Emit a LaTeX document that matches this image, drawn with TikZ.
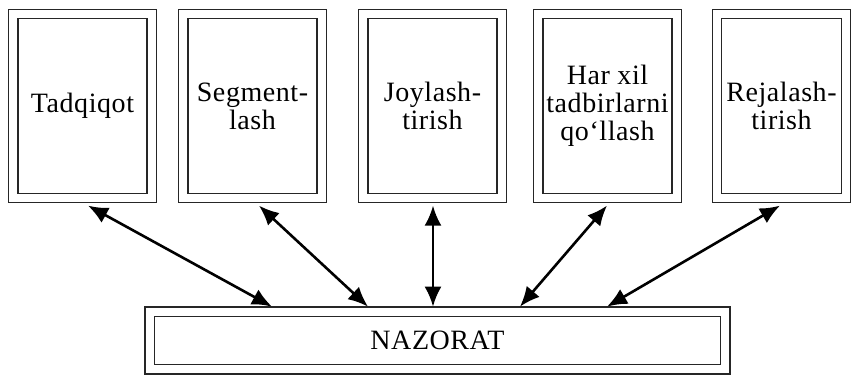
\documentclass[tikz,border=0pt]{standalone}
\usepackage{fontspec}
\setmainfont{Liberation Serif}[LetterSpace=2]
\usepackage{tikz}
\usetikzlibrary{arrows.meta, positioning, calc}
\tikzset{
  dbox/.style={draw=black!85, line width=0.6pt, double, double distance=4.1pt,
    align=center, inner sep=0pt, minimum width=69.25pt, minimum height=92pt,
    font=\fontsize{14}{14}\selectfont},
  link/.style={{Latex[length=10pt,width=8.5pt]}-{Latex[length=10pt,width=8.5pt]}, line width=1.3pt}
}

\begin{document}
\begin{tikzpicture}[x=0.5pt,y=-0.5pt]
\useasboundingbox (0,0) rectangle (853,375);
% Stages
\node[dbox] (tadqiqot) at (82.5,106) {Tadqiqot};
\node[dbox] (segment) at (252.5,106) {Segment-\\lash};
\node[dbox] (joylash) at (432.5,106) {Joylash-\\tirish};
\node[dbox] (tadbir) at (607.5,106) {Har xil\\tadbirlarni\\qo‘llash};
\node[dbox,minimum width=64.5pt] (reja) at (781.5,106) {Rejalash-\\tirish};
% Control
\node[dbox,minimum width=287.75pt,minimum height=28.75pt] (nazorat) at (437.5,340.5) {NAZORAT};
% Links
\draw[link] ($(tadqiqot.south)+(5.5,7)$) -- ($(nazorat.north)+(-165.5,-4.5)$);
\draw[link] ($(segment.south)+(6.5,7)$) -- ($(nazorat.north)+(-69.5,-4.5)$);
\draw[link] ($(joylash.south)+(0.5,7)$) -- ($(nazorat.north)+(-4.5,-4.5)$);
\draw[link] ($(tadbir.south)+(-0.5,7)$) -- ($(nazorat.north)+(82.5,-4.5)$);
\draw[link] ($(reja.south)+(-1.5,7)$) -- ($(nazorat.north)+(169.5,-4.5)$);
\end{tikzpicture}
\end{document}
